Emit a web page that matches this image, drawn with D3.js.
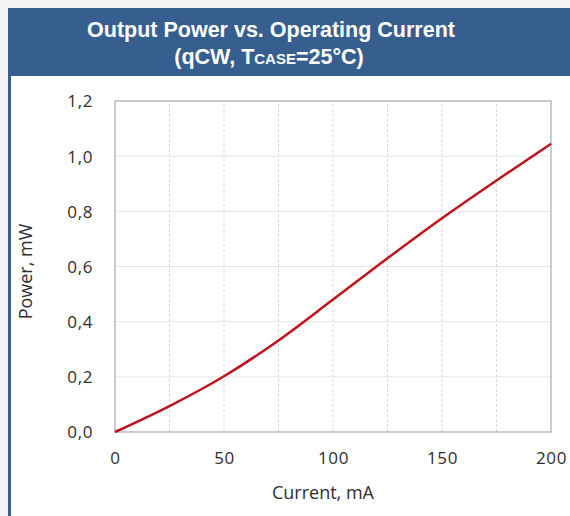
<!DOCTYPE html>
<html><head><meta charset="utf-8">
<script src="https://cdn.jsdelivr.net/npm/d3@7"></script>
<style>
html,body{margin:0;padding:0;background:#f5f5f5;}
svg{display:block;}
</style></head>
<body>
<svg id="c" width="570" height="516"></svg>
<script>
const currentValues = [0, 25, 50, 75, 100, 125, 150, 175, 200];
const powerValues = [0, 0.094, 0.202, 0.332, 0.48, 0.63, 0.775, 0.912, 1.045];
const xTicks = [0, 50, 100, 150, 200];
const yTicks = [0, 0.2, 0.4, 0.6, 0.8, 1.0, 1.2];
const xGrid = [25, 50, 75, 100, 125, 150, 175];
const titleLine1 = "Output Power vs. Operating Current";
const xTitle = "Current, mA";
const yTitle = "Power, mW";

const svg = d3.select("#c");
const blue = "#365f8f";
svg.append("rect").attr("x",8).attr("y",8).attr("width",570).attr("height",516).attr("fill","#ffffff");
svg.append("rect").attr("x",8).attr("y",8).attr("width",570).attr("height",68).attr("fill",blue);
svg.append("rect").attr("x",8).attr("y",76).attr("width",3).attr("height",440).attr("fill",blue);

const tf = "'Liberation Sans', Arial, sans-serif";
svg.append("text").attr("x",271).attr("y",37).attr("text-anchor","middle")
  .attr("font-family",tf).attr("font-weight","bold").attr("font-size","21.5px").attr("fill","#fff")
  .text(titleLine1);
const t2 = svg.append("text").attr("x",269).attr("y",64).attr("text-anchor","middle")
  .attr("font-family",tf).attr("font-weight","bold").attr("font-size","21.5px").attr("fill","#fff");
t2.append("tspan").text("(qCW, T");
t2.append("tspan").attr("font-size","15px").text("CASE");
t2.append("tspan").text("=25°C)");

const x = d3.scaleLinear().domain([0,200]).range([115,551]);
const y = d3.scaleLinear().domain([0,1.2]).range([432,101]);

const g = svg.append("g");
g.selectAll(".hg").data(yTicks.slice(1,-1)).join("line")
  .attr("x1",x(0)).attr("x2",x(200)).attr("y1",d=>y(d)).attr("y2",d=>y(d))
  .attr("stroke","#e6e6e6").attr("stroke-width",1);
g.selectAll(".vg").data(xGrid).join("line")
  .attr("x1",d=>x(d)).attr("x2",d=>x(d)).attr("y1",y(0)).attr("y2",y(1.2))
  .attr("stroke","#d9d9d9").attr("stroke-width",1).attr("stroke-dasharray","3,2");
g.append("rect").attr("x",x(0)).attr("y",y(1.2)).attr("width",x(200)-x(0)).attr("height",y(0)-y(1.2))
  .attr("fill","none").attr("stroke","#a8a8b8").attr("stroke-width",1.2);

const lf = "'Open Sans', 'Noto Sans', sans-serif";
const xAxis = d3.axisBottom(x).tickValues(xTicks).tickSize(0).tickPadding(0).tickFormat(d3.format("d"));
const xa = svg.append("g").attr("transform",`translate(0,${447})`).call(xAxis);
xa.select(".domain").remove();
xa.selectAll("text").attr("font-family",lf).attr("font-size","17px").attr("fill","#2e2e2e")
  .attr("letter-spacing","0.6px").attr("dy","1em");

const yAxis = d3.axisLeft(y).tickValues(yTicks).tickSize(0).tickPadding(0)
  .tickFormat(d => d3.format(".1f")(d).replace(".", ","));
const ya = svg.append("g").attr("transform",`translate(93,0)`).call(yAxis);
ya.select(".domain").remove();
ya.selectAll("text").attr("font-family",lf).attr("font-size","17px").attr("fill","#2e2e2e")
  .attr("letter-spacing","0.6px").attr("dy","0.35em");

svg.append("text").attr("x",323).attr("y",499).attr("text-anchor","middle")
  .attr("font-family",lf).attr("font-size","18px").attr("fill","#2e2e2e").text(xTitle);
svg.append("text").attr("transform","translate(32,271.5) rotate(-90)").attr("text-anchor","middle")
  .attr("font-family",lf).attr("font-size","18px").attr("fill","#2e2e2e").text(yTitle);

const data = currentValues.map((c,i)=>({c, p: powerValues[i]}));
svg.append("path").datum(data)
  .attr("d", d3.line().x(d=>x(d.c)).y(d=>y(d.p)).curve(d3.curveMonotoneX))
  .attr("fill","none").attr("stroke","#c0141c").attr("stroke-width",2.5);
</script>
</body></html>
